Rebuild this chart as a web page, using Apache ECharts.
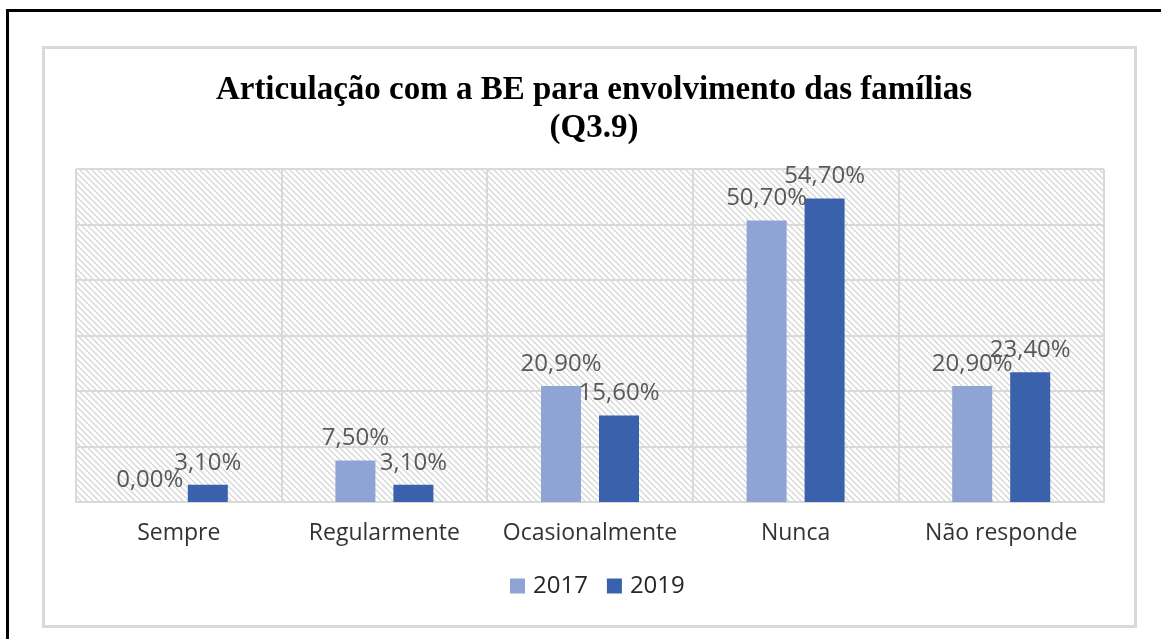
<!DOCTYPE html>
<html>
<head>
    <meta charset="utf-8">
    <title>Articulação com a BE</title>
    <script src="https://cdn.jsdelivr.net/npm/echarts@6/dist/echarts.min.js"></script>
    <style>
        html, body { margin: 0; padding: 0; background: #fff; }
        #frame { position: absolute; left: 6px; top: 9px; width: 1200px; height: 700px;
                 border-left: 3px solid #000; border-top: 3px solid #000; }
        #box { position: absolute; left: 42px; top: 46px; width: 1089px; height: 576px;
               border: 3px solid #d9d9d9; }
        #result { position: absolute; left: 0; top: 0; width: 1161px; height: 639px; }
    </style>
</head>
<body>
    <div id="frame"></div>
    <div id="box"></div>
    <div id="result"></div>
    <script>
        // dados
        var categorias = ['Sempre', 'Regularmente', 'Ocasionalmente', 'Nunca', 'Não responde'];
        var anos = ['2017', '2019'];
        var valores2017 = [0.0, 7.5, 20.9, 50.7, 20.9];
        var valores2019 = [3.1, 3.1, 15.6, 54.7, 23.4];
        var cores = ['#8fa3d4', '#3a61ab'];

        // padrão tracejado do fundo
        function hatch() {
            var c = document.createElement('canvas');
            c.width = 6; c.height = 6;
            var ctx = c.getContext('2d');
            ctx.fillStyle = '#fff';
            ctx.fillRect(0, 0, 6, 6);
            ctx.strokeStyle = '#d6d6d6';
            ctx.lineWidth = 1.3;
            ctx.beginPath();
            ctx.moveTo(-1, -1); ctx.lineTo(7, 7);
            ctx.moveTo(-1, 5); ctx.lineTo(1, 7);
            ctx.moveTo(5, -1); ctx.lineTo(7, 1);
            ctx.stroke();
            return { image: c, repeat: 'repeat' };
        }

        function fmt(p) {
            return p.value.toFixed(2).replace('.', ',') + '%';
        }

        var myChart = echarts.init(document.getElementById('result'));
        var option = {
            animation: false,
            title: {
                text: 'Articulação com a BE para envolvimento das famílias\n(Q3.9)',
                left: 589,
                textAlign: 'center',
                top: 66,
                textStyle: {
                    fontFamily: 'Liberation Serif',
                    fontWeight: 'bold',
                    fontSize: 33,
                    lineHeight: 38,
                    color: '#000'
                }
            },
            legend: {
                data: anos,
                bottom: 36,
                left: 505,
                itemWidth: 15,
                itemHeight: 15,
                itemGap: 19,
                icon: 'rect',
                textStyle: { fontFamily: 'Open Sans', fontSize: 24, color: '#262626', padding: [0, 0, 0, 3] }
            },
            grid: {
                left: 76,
                right: 57,
                top: 169,
                bottom: 137,
                show: true,
                borderWidth: 0,
                backgroundColor: hatch()
            },
            xAxis: {
                type: 'category',
                data: categorias,
                axisLine: { lineStyle: { color: '#d9d9d9', width: 2 } },
                axisTick: { show: false },
                splitLine: { show: true, interval: 0, lineStyle: { color: '#d9d9d9', width: 2 } },
                axisLabel: {
                    interval: 0,
                    margin: 20,
                    fontFamily: 'Open Sans',
                    fontSize: 23,
                    color: '#333'
                }
            },
            yAxis: {
                type: 'value',
                min: 0,
                max: 60,
                interval: 10,
                axisLabel: { show: false },
                axisLine: { show: false },
                axisTick: { show: false },
                splitLine: { lineStyle: { color: '#d9d9d9', width: 2 } }
            },
            series: [{
                name: anos[0],
                type: 'bar',
                data: valores2017,
                barWidth: 40,
                barGap: '45%',
                itemStyle: { color: cores[0] },
                label: {
                    show: true, position: 'top', distance: 10, formatter: fmt,
                    fontFamily: 'Open Sans', fontSize: 24, color: '#595959'
                }
            }, {
                name: anos[1],
                type: 'bar',
                data: valores2019,
                barWidth: 40,
                itemStyle: { color: cores[1] },
                label: {
                    show: true, position: 'top', distance: 10, formatter: fmt,
                    fontFamily: 'Open Sans', fontSize: 24, color: '#595959'
                }
            }]
        };
        myChart.setOption(option);
    </script>
</body>
</html>
